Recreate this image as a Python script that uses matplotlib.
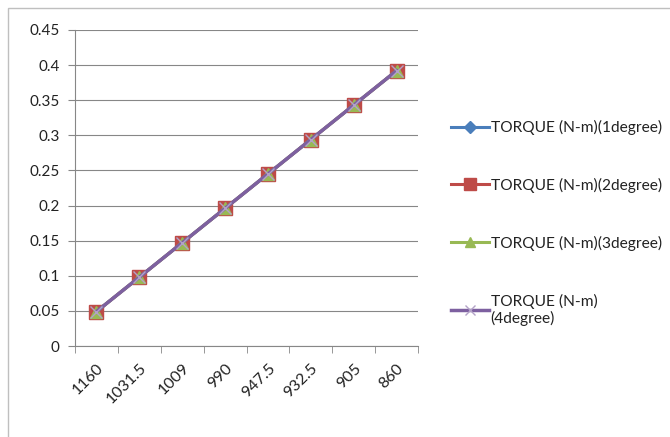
import matplotlib.pyplot as plt
from matplotlib.patches import Rectangle

speeds = ["1160", "1031.5", "1009", "990", "947.5", "932.5", "905", "860"]
torque_1deg = [0.049, 0.098, 0.147, 0.196, 0.245, 0.294, 0.343, 0.392]
torque_2deg = [0.049, 0.098, 0.147, 0.196, 0.245, 0.294, 0.343, 0.392]
torque_3deg = [0.049, 0.098, 0.147, 0.196, 0.245, 0.294, 0.343, 0.392]
torque_4deg = [0.049, 0.098, 0.147, 0.196, 0.245, 0.294, 0.343, 0.392]
labels = ["TORQUE (N-m)(1degree)", "TORQUE (N-m)(2degree)",
          "TORQUE (N-m)(3degree)", "TORQUE (N-m)\n(4degree)"]

plt.rcParams['font.family'] = ['Lato', 'DejaVu Sans']

W, H = 670, 437
fig = plt.figure(figsize=(W / 100, H / 100), dpi=100)

# chart border
fig.patches.append(Rectangle((8 / W, -0.1), 1.2, 1 - 8 / H + 0.1, transform=fig.transFigure,
                             fill=False, edgecolor='#bfbfbf', linewidth=1))

ax = fig.add_axes([75 / W, 1 - 346 / H, (418 - 75) / W, (346 - 30) / H])
x = list(range(len(speeds)))

ax.plot(x, torque_1deg, color='#4a7ebb', marker='D', markersize=7, linewidth=2.2, label=labels[0])
ax.plot(x, torque_2deg, color='#be4b48', marker='s', markersize=10.5, linewidth=2.2, label=labels[1])
ax.plot(x, torque_3deg, color='#98b954', marker='^', markersize=9, linewidth=2.2, label=labels[2])
ax.plot(x, torque_4deg, color='#7d60a0', marker='x', markersize=8, markeredgecolor='#b3a2c7',
        linewidth=2.5, label=labels[3])

ax.set_xlim(-0.5, len(speeds) - 0.5)
ax.set_ylim(0, 0.45)
ax.set_yticks([i * 0.05 for i in range(10)])
ax.set_yticklabels(["0", "0.05", "0.1", "0.15", "0.2", "0.25", "0.3", "0.35", "0.4", "0.45"])
ax.set_xticks(x)
ax.set_xticklabels(speeds, rotation=45, ha='right', rotation_mode='anchor')
ax.set_xticks([i - 0.5 for i in range(len(speeds) + 1)], minor=True)
ax.tick_params(axis='x', which='major', length=0, pad=11, labelsize=11.5, colors='#222222')
ax.tick_params(axis='x', which='minor', length=5, color='#878787', direction='out')
ax.tick_params(axis='y', length=5, color='#878787', labelsize=11, colors='#222222', pad=6)

ax.grid(axis='y', color='#878787', linewidth=0.8)
ax.set_axisbelow(True)
for side in ['top', 'right']:
    ax.spines[side].set_visible(False)
for side in ['left', 'bottom']:
    ax.spines[side].set_color('#878787')

leg = fig.legend(loc='upper left', bbox_to_anchor=(437 / W, 1 - 106 / H), frameon=False,
                 fontsize=11.2, labelspacing=2.75, handlelength=2.45, handletextpad=0.1,
                 markerscale=0.85)
for t in leg.get_texts():
    t.set_color('#222222')

fig.savefig('out.png', dpi=100)
